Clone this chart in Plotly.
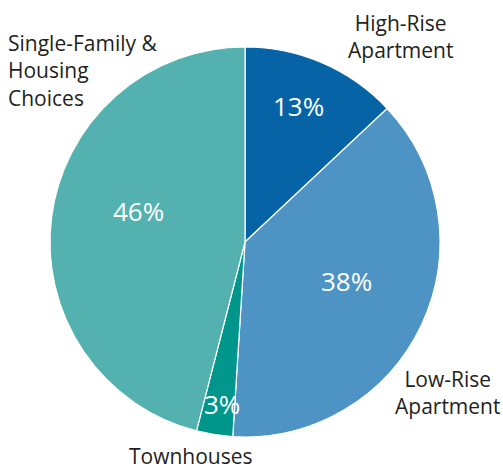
import math
import plotly.graph_objects as go

categories = ["High-Rise Apartment", "Low-Rise Apartment", "Townhouses", "Single-Family & Housing Choices"]
values = [13, 38, 3, 46]
colors = ["#0664a6", "#4d94c4", "#01968c", "#53b2af"]
# placement of each percentage label: fraction of the radius, angular shift (deg)
label_radius = [0.75, 0.56, 0.84, 0.57]
label_shift = [-2, -4, -1, 9]

# pie geometry (pixels)
W, H = 503, 470
cx, cy, R = 245, 242, 195

fig = go.Figure(go.Pie(
    labels=categories,
    values=values,
    sort=False,
    direction="clockwise",
    rotation=0,
    marker=dict(colors=colors, line=dict(color="white", width=1.2)),
    textinfo="none",
    domain=dict(x=[(cx - R) / W, (cx + R) / W], y=[1 - (cy + R) / H, 1 - (cy - R) / H]),
    showlegend=False,
    hoverinfo="label+percent",
))

annotations = []
total = sum(values)
cum = 0
for v, rf, sh in zip(values, label_radius, label_shift):
    mid = (cum + v / 2) / total * 2 * math.pi + math.radians(sh)
    cum += v
    px = cx + rf * R * math.sin(mid)
    py = cy - rf * R * math.cos(mid)
    annotations.append(dict(
        text=f"{round(v / total * 100)}%", x=px / W, y=1 - py / H, xref="paper", yref="paper",
        showarrow=False, font=dict(family="Open Sans", size=26, color="white"),
        xanchor="center", yanchor="middle"))

font = dict(family="Open Sans", size=21, color="#231f20")
annotations += [
    dict(text="High-Rise<br>Apartment", x=400 / W, y=1 - 37 / H, xref="paper", yref="paper",
         showarrow=False, font=font, align="center", xanchor="center", yanchor="middle"),
    dict(text="Low-Rise<br>Apartment", x=447 / W, y=1 - 392 / H, xref="paper", yref="paper",
         showarrow=False, font=font, align="center", xanchor="center", yanchor="middle"),
    dict(text="Townhouses", x=191 / W, y=1 - 456 / H, xref="paper", yref="paper",
         showarrow=False, font=font, align="center", xanchor="center", yanchor="middle"),
    dict(text="Single-Family &<br>Housing<br>Choices", x=6 / W, y=1 - 70 / H, xref="paper", yref="paper",
         showarrow=False, font=font, align="left", xanchor="left", yanchor="middle"),
]

fig.update_layout(
    width=W, height=H,
    margin=dict(l=0, r=0, t=0, b=0),
    paper_bgcolor="white",
    annotations=annotations,
)

fig.write_html("out.html", config={"displayModeBar": False},
               post_script="document.body.style.margin='0';")
